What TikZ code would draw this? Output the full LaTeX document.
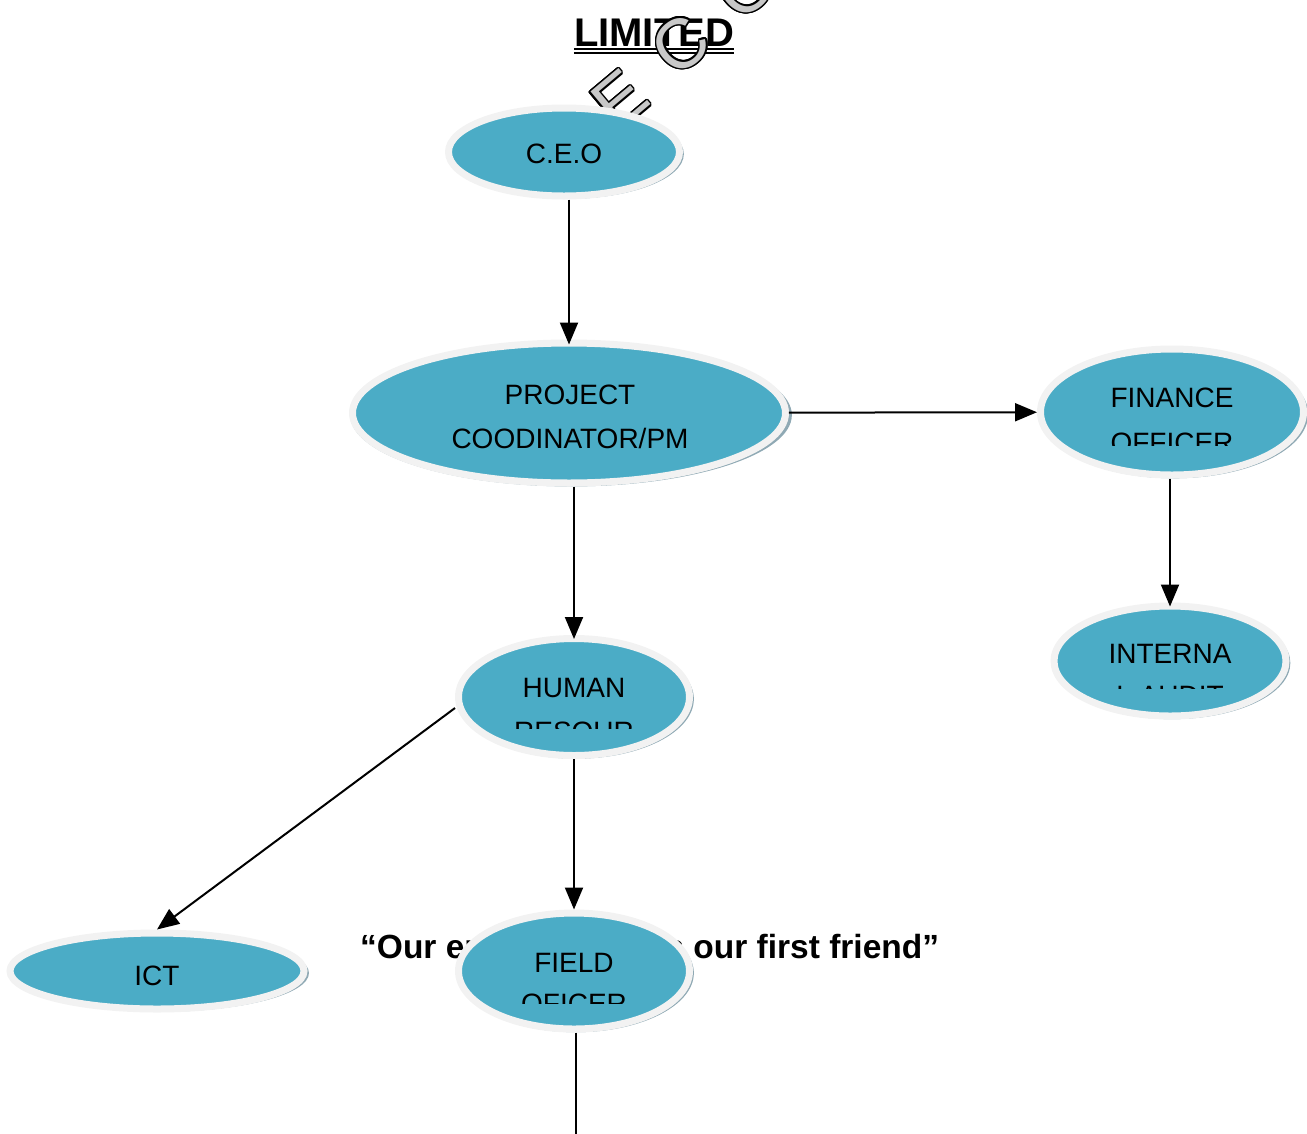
\documentclass[tikz,border=0pt]{standalone}
\usepackage{fontspec}
\setmainfont{Liberation Sans}
\usepackage{contour}
\contourlength{1.5pt}
\usetikzlibrary{shapes.geometric,arrows.meta,shadows}

\definecolor{unitblue}{HTML}{4BACC6}
\definecolor{unitring}{HTML}{F2F2F2}
\definecolor{unitshade}{HTML}{8FA9B4}
\definecolor{markgrey}{HTML}{C8C8C8}

\tikzset{
  unit/.style={ellipse, inner sep=0pt, fill=unitblue, draw=unitring, line width=7pt,
    drop shadow={shadow xshift=2pt, shadow yshift=-2pt, shadow scale=1.02,
      fill=unitshade, opacity=1}},
  unittext/.style={anchor=base, inner sep=0pt, font=\fontsize{28}{32}\selectfont},
  link/.style={line width=2pt, -{Triangle[length=22pt,width=18pt]}},
  wmletter/.style={inner sep=0pt, rotate=40, font=\fontsize{70}{70}\selectfont}
}

\begin{document}
\begin{tikzpicture}[x=1pt,y=-1pt]
  \useasboundingbox (0,0) rectangle (1307,1133);

  % title and watermark
  \node[anchor=base, inner sep=0pt, font=\bfseries\fontsize{40}{40}\selectfont] (limited) at (654,46) {LIMITED};
  \draw[line width=1.3pt] ([yshift=-3pt]limited.base west) -- ([yshift=-3pt]limited.base east);
  \draw[line width=1.3pt] ([yshift=-7pt]limited.base west) -- ([yshift=-7pt]limited.base east);
  \node[wmletter] (wmE) at (620,100) {\contour{black}{\textcolor{markgrey}{E}}};
  \node[wmletter] (wmC) at (681,45) {\contour{black}{\textcolor{markgrey}{C}}};
  \node[wmletter] (wmO) at (746,-12) {\contour{black}{\textcolor{markgrey}{O}}};

  % motto, half hidden by the field officer
  \node[anchor=base west, inner sep=0pt, font=\bfseries\fontsize{33.5}{40}\selectfont] (motto) at (360,958)
    {“Our environment is our first friend”};

  % units
  \node[unit, minimum width=231pt, minimum height=88pt] (ceo) at (564,152) {};
  \node[unit, minimum width=433pt, minimum height=140pt] (pm) at (569,413) {};
  \node[unit, minimum width=263pt, minimum height=126pt] (fin) at (1172,412) {};
  \node[unit, minimum width=232pt, minimum height=110pt] (int) at (1170,661) {};
  \node[unit, minimum width=231pt, minimum height=117pt] (hr) at (574,697) {};
  \node[unit, minimum width=294pt, minimum height=76pt] (ict) at (157,971) {};
  \node[unit, minimum width=231pt, minimum height=116pt] (field) at (574,971) {};
  \coordinate (exit) at (576,1140);

  % links
  \draw[link, shorten >=-5pt] (ceo.south -| pm.north) -- (pm.north);
  \draw[link] (pm) -- (fin);
  \draw[link, shorten >=-4pt] (pm.south -| hr.north) -- (hr.north);
  \draw[link, shorten >=-4pt] (fin.south -| int.north) -- (int.north);
  \draw[link] ([yshift=-11pt]hr.west) -- (ict.north);
  \draw[link] (hr) -- (field);
  \draw[line width=2pt] (field.south -| exit) -- (exit);

  % texts
  \node[unittext] (ceoA) at (564,163) {C.E.O};
  \node[unittext] (pmA) at (570,404) {PROJECT};
  \node[unittext] (pmB) at (570,448) {COODINATOR/PM};
  \node[unittext] (finA) at (1172,407) {FINANCE};
  \node[unittext] (intA) at (1170,663) {INTERNA};
  \node[unittext] (hrA) at (574,697) {HUMAN};
  \node[unittext] (ictA) at (157,985) {ICT};
  \node[unittext] (fieldA) at (574,972) {FIELD};
  \begin{scope}
    \clip (1040,420) rectangle (1300,445);
    \node[unittext] (finB) at (1172,452) {OFFICER};
  \end{scope}
  \begin{scope}
    \clip (1060,670) rectangle (1280,688);
    \node[unittext] (intB) at (1170,705) {L AUDIT};
  \end{scope}
  \begin{scope}
    \clip (460,705) rectangle (690,728);
    \node[unittext] (hrB) at (574,741) {RESOUR};
  \end{scope}
  \begin{scope}
    \clip (460,980) rectangle (690,1003);
    \node[unittext] (fieldB) at (574,1013) {OFICER};
  \end{scope}
\end{tikzpicture}
\end{document}
